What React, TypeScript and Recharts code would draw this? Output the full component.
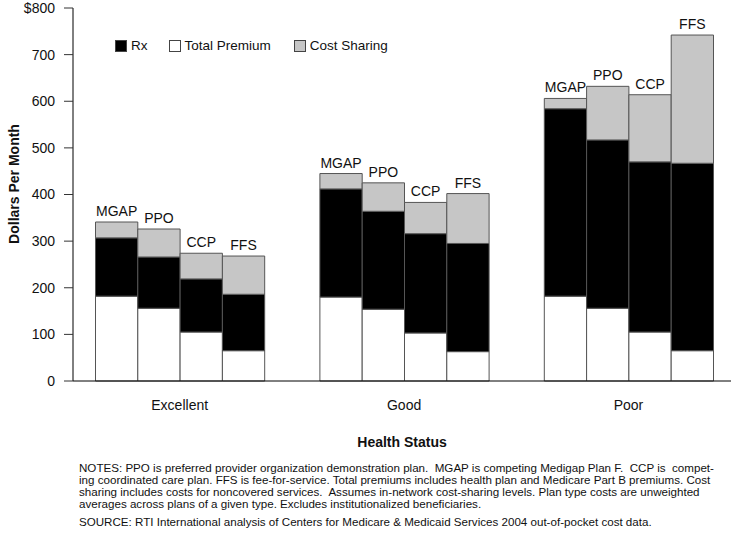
import React from "react";
import { BarChart, Bar, XAxis, YAxis, Legend, LabelList } from "recharts";

const FONT = '"Liberation Sans", Arial, Helvetica, sans-serif';

const statuses = ["Excellent", "Good", "Poor"];
const plans = ["MGAP", "PPO", "CCP", "FFS"];

// dollars per month, plan order MGAP, PPO, CCP, FFS
const totalPremium = [
  [182, 156, 105, 65], // Excellent
  [180, 154, 103, 63], // Good
  [182, 156, 105, 65], // Poor
];
const rx = [
  [125, 110, 114, 121],
  [232, 210, 213, 232],
  [402, 361, 365, 402],
];
const costSharing = [
  [34, 60, 55, 82],
  [33, 61, 67, 107],
  [22, 115, 144, 275],
];

const yTicks = [0, 100, 200, 300, 400, 500, 600, 700, 800];

const legendItems = [
  { label: "Rx", color: "#000000" },
  { label: "Total Premium", color: "#ffffff" },
  { label: "Cost Sharing", color: "#c6c6c6" },
];

const noteLines = [
  "NOTES: PPO is preferred provider organization demonstration plan.  MGAP is competing Medigap Plan F.  CCP is  compet-",
  "ing coordinated care plan. FFS is fee-for-service. Total premiums includes health plan and Medicare Part B premiums. Cost",
  "sharing includes costs for noncovered services.  Assumes in-network cost-sharing levels. Plan type costs are unweighted",
  "averages across plans of a given type. Excludes institutionalized beneficiaries.",
];
const sourceLine =
  "SOURCE: RTI International analysis of Centers for Medicare & Medicaid Services 2004 out-of-pocket cost data.";

const data = statuses.map((status, i) => {
  const row: any = { status };
  plans.forEach((p, j) => {
    row[p + "_prem"] = totalPremium[i][j];
    row[p + "_rx"] = rx[i][j];
    row[p + "_cost"] = costSharing[i][j];
  });
  return row;
});

const renderLegend = () => (
  <div style={{ display: "flex", fontFamily: FONT, fontSize: 13.5, color: "#111" }}>
    {legendItems.map((it, i) => (
      <div
        key={it.label}
        style={{ display: "flex", alignItems: "center", marginRight: i === 0 ? 21 : 23 }}
      >
        <span
          style={{
            display: "inline-block",
            width: 10,
            height: 10,
            background: it.color,
            border: "1px solid #444",
            marginRight: 4,
          }}
        />
        <span>{it.label}</span>
      </div>
    ))}
  </div>
);

export default function App() {
  return (
    <div style={{ position: "absolute", left: 0, top: 0, width: 736, height: 535 }}>
      <BarChart
        width={736}
        height={535}
        data={data}
        margin={{ top: 8, right: 5, bottom: 114, left: 0 }}
        barGap={0}
        barSize={42.3}
      >
        <XAxis
          dataKey="status"
          height={40}
          padding={{ left: -5.5, right: -9.7 }}
          axisLine={{ stroke: "#000" }}
          tickLine={false}
          tickSize={0}
          tickMargin={19}
          tick={{ fontSize: 14, fill: "#111", fontFamily: FONT }}
        />
        <YAxis
          width={73}
          domain={[0, 800]}
          ticks={yTicks}
          interval={0}
          axisLine={{ stroke: "#000" }}
          tickLine={{ stroke: "#333" }}
          tickSize={9}
          tickMargin={9}
          tickFormatter={(v: number) => (v === 800 ? "$800" : String(v))}
          tick={{ fontSize: 14, fill: "#111", fontFamily: FONT }}
        />
        <Legend
          layout="horizontal"
          verticalAlign="middle"
          align="center"
          content={renderLegend}
          wrapperStyle={{ position: "absolute", top: 38, left: 115, width: "auto" }}
        />
        {plans.map((p) => (
          <React.Fragment key={p}>
            <Bar
              dataKey={p + "_prem"}
              stackId={p}
              fill="#ffffff"
              stroke="#555"
              strokeWidth={1}
              isAnimationActive={false}
            />
            <Bar
              dataKey={p + "_rx"}
              stackId={p}
              fill="#000000"
              stroke="#555"
              strokeWidth={1}
              isAnimationActive={false}
            />
            <Bar
              dataKey={p + "_cost"}
              stackId={p}
              fill="#c6c6c6"
              stroke="#555"
              strokeWidth={1}
              isAnimationActive={false}
            >
              <LabelList
                position="top"
                offset={6}
                formatter={() => p}
                style={{ fontSize: 14, fill: "#111", fontFamily: FONT }}
              />
            </Bar>
          </React.Fragment>
        ))}
      </BarChart>

      <svg
        width={736}
        height={535}
        style={{ position: "absolute", left: 0, top: 0, pointerEvents: "none" }}
      >
        <text
          transform="translate(19,184) rotate(-90)"
          textAnchor="middle"
          fontFamily={FONT}
          fontSize={14}
          fontWeight="bold"
          fill="#111"
        >
          Dollars Per Month
        </text>
        <text
          x={402}
          y={446.5}
          textAnchor="middle"
          fontFamily={FONT}
          fontSize={14}
          fontWeight="bold"
          fill="#111"
        >
          Health Status
        </text>
      </svg>

      <div
        style={{
          position: "absolute",
          left: 79,
          top: 461.5,
          fontFamily: FONT,
          fontSize: 11.6,
          lineHeight: "12px",
          color: "#111",
          whiteSpace: "pre",
        }}
      >
        {noteLines.map((l) => (
          <div key={l}>{l}</div>
        ))}
        <div style={{ marginTop: 6.5 }}>{sourceLine}</div>
      </div>
    </div>
  );
}
